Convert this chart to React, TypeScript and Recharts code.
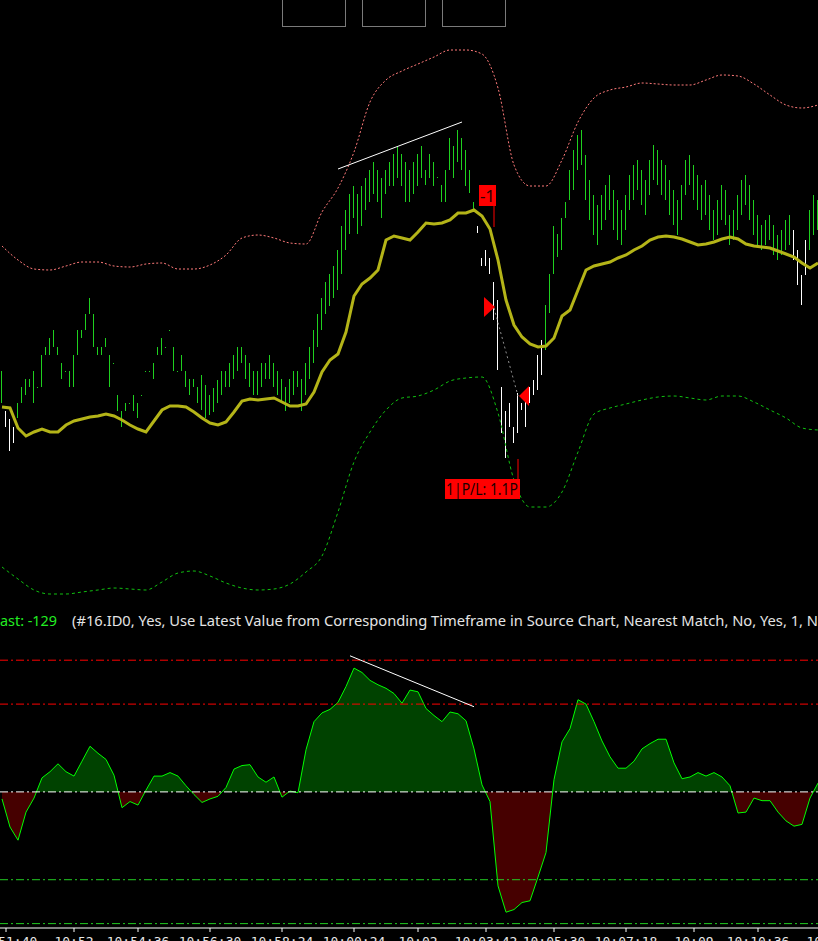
import React from 'react';
import {
  ComposedChart,
  Bar,
  Cell,
  Line,
  Area,
  XAxis,
  YAxis,
  ReferenceLine,
  ReferenceDot,
} from 'recharts';

// price bars, one per index (high / low)
const barHigh = [
  229, 189, 181, 173, 197, 213, 221, 221, 229, 213,
  245, 253, 262, 270, 253, 237, 229, 229, 245, 270,
  270, 286, 302, 286, 253, 253, 262, 245, 237, 205,
  189, 197, 197, 205, 197, 205, 229, 229, 237, 253,
  262, 253, 270, 253, 229, 245, 229, 221, 221, 213,
  225, 215, 205, 212, 220, 229, 229, 237, 245, 253,
  253, 245, 237, 229, 229, 237, 237, 245, 237, 229,
  221, 213, 221, 229, 229, 221, 237, 253, 270, 286,
  302, 318, 326, 334, 350, 374, 390, 406, 414, 406,
  414, 422, 430, 438, 430, 422, 430, 438, 446, 454,
  446, 438, 430, 438, 446, 454, 430, 446, 438, 423,
  415, 430, 462, 454, 470, 462, 450, 430, 398, 374,
  342, 350, 342, 318, 300, 213, 189, 197, 173, 207,
  197, 198, 213, 220, 245, 260, 295, 326, 374, 366,
  382, 398, 430, 450, 465, 470, 445, 420, 405, 395,
  405, 415, 425, 410, 400, 390, 405, 425, 435, 440,
  430, 420, 440, 455, 450, 440, 435, 420, 410, 400,
  415, 440, 445, 435, 425, 415, 420, 405, 390, 400,
  415, 410, 385, 390, 405, 420, 425, 415, 400, 385,
  375, 380, 385, 375, 365, 370, 380, 385, 370, 350,
  325, 360, 390, 405, 400,
];
const barLow = [
  197, 173, 149, 157, 182, 197, 205, 213, 197, 212,
  213, 245, 245, 253, 245, 221, 228, 213, 213, 245,
  262, 270, 286, 253, 245, 245, 253, 213, 236, 189,
  173, 189, 196, 189, 182, 204, 228, 228, 221, 245,
  245, 252, 269, 229, 228, 229, 213, 205, 213, 197,
  190, 182, 185, 188, 197, 205, 213, 213, 221, 229,
  237, 221, 213, 205, 205, 213, 221, 221, 213, 205,
  197, 189, 197, 205, 213, 189, 205, 221, 237, 253,
  270, 286, 294, 302, 310, 326, 350, 366, 382, 366,
  374, 390, 398, 406, 398, 382, 406, 414, 414, 422,
  414, 398, 398, 406, 414, 422, 415, 422, 414, 422,
  398, 398, 430, 422, 438, 430, 414, 407, 390, 367,
  334, 334, 326, 280, 230, 167, 142, 173, 157, 167,
  190, 173, 197, 205, 210, 225, 250, 287, 326, 343,
  350, 382, 400, 410, 430, 435, 400, 380, 365, 355,
  370, 380, 390, 370, 360, 355, 370, 390, 400, 410,
  395, 385, 405, 420, 415, 405, 400, 385, 375, 365,
  380, 405, 415, 400, 390, 380, 385, 370, 360, 365,
  380, 375, 355, 360, 370, 385, 395, 380, 365, 355,
  350, 355, 360, 345, 340, 345, 350, 355, 340, 315,
  295, 325, 350, 365, 370,
];
// bar index runs drawn white (below the average)
const downRuns = [[1, 3], [119, 135], [198, 201]];

// moving average, every 2nd bar
const maValues = [
  193, 192, 172, 164, 168, 171, 168, 168, 175, 179,
  181, 183, 184, 186, 184, 180, 175, 171, 168, 179,
  190, 194, 194, 193, 188, 182, 177, 175, 178, 188,
  199, 201, 200, 201, 202, 198, 194, 194, 196, 208,
  228, 240, 246, 268, 304, 316, 322, 330, 360, 364,
  362, 360, 368, 377, 376, 377, 380, 387, 387, 390,
  384, 371, 340, 300, 275, 263, 256, 253, 254, 262,
  284, 290, 310, 330, 334, 336, 338, 342, 345, 350,
  354, 360, 363, 364, 363, 361, 358, 355, 356, 358,
  361, 363, 361, 356, 354, 353, 352, 349, 346, 343,
  337, 332, 337,
];
// bands, every 4th bar
const upperBand = [
  354, 340, 331, 330, 334, 338, 338, 334, 333, 336,
  337, 331, 331, 335, 345, 362, 365, 362, 357, 356,
  388, 412, 448, 498, 520, 529, 536, 543, 550, 550,
  546, 512, 435, 414, 414, 440, 478, 502, 510, 513,
  517, 516, 515, 515, 520, 525, 524, 516, 505, 495,
  492, 495,
];
const lowerBand = [
  33, 21, 10, 6, 6, 8, 10, 12, 11, 10,
  18, 27, 29, 24, 17, 12, 10, 11, 16, 28,
  44, 88, 138, 168, 190, 202, 204, 210, 219, 222,
  223, 187, 120, 93, 93, 108, 148, 186, 192, 196,
  200, 203, 204, 202, 200, 204, 204, 198, 190, 182,
  172, 170,
];

// oscillator, every 2nd bar
const oscValues = [
  -8, -40, -55, -23, -7, 16, 23, 32, 23, 18,
  35, 52, 44, 37, 19, -18, -11, -15, 2, 18,
  18, 22, 18, 7, -3, -12, -8, -5, 5, 26,
  30, 31, 17, 11, 17, -6, 1, -1, 48, 80,
  90, 94, 102, 120, 141, 136, 127, 122, 118, 112,
  101, 116, 114, 95, 87, 80, 91, 89, 81, 49,
  8, -11, -107, -137, -134, -126, -124, -97, -69, 14,
  57, 72, 105, 100, 80, 58, 40, 27, 27, 35,
  49, 55, 60, 60, 33, 15, 17, 22, 18, 22,
  17, 7, -24, -23, -7, -10, -10, -23, -33, -39,
  -37, -7, 10,
];
const oscLevels = [
  { v: 150, color: '#ff0000' },
  { v: 100, color: '#ff0000' },
  { v: 0, color: '#ffffff' },
  { v: -100, color: '#22cc22' },
  { v: -150, color: '#22cc22' },
];

const tickBars = [1, 18, 34, 52, 70, 88, 104, 121, 138, 156, 173, 189, 206];
const tickLabels = [
  '10:51:40', '10:52', '10:54:36', '10:56:30', '10:58:24', '10:00:24', '10:02',
  '10:03:42', '10:05:30', '10:07:18', '10:09', '10:10:36', '10:12',
];

const priceTrend = [{ x: 84, y: 431 }, { x: 115, y: 478 }];
const oscTrend = [{ x: 87, y: 155 }, { x: 118, y: 97 }];

// short trade: signal + fill at bar 123, cover at bar 129
const entry = { bar: 123, fill: 293, lineFrom: 373, lineTo: 394, label: '-1' };
const exit = { bar: 129, fill: 204, lineFrom: 141, lineTo: 121, label: '1|P/L: 1.1P' };

const bars = barHigh.map((hi, i) => ({
  i,
  hi,
  lo: barLow[i],
  down: downRuns.some(([a, b]) => i >= a && i <= b),
}));
const maData = maValues.map((v, k) => ({ i: k * 2, v }));
const upperData = upperBand.map((v, k) => ({ i: k * 4, v }));
const lowerData = lowerBand.map((v, k) => ({ i: k * 4, v }));
const oscData = oscValues.map((v, k) => ({ i: k * 2, v }));

const W = 840;
const X_DOMAIN: [number, number] = [-0.5, 209.5];
const OSC_H = 318;
const OSC_AXIS_H = 30;
const OSC_DOMAIN: [number, number] = [-155, 173];
const zeroY = ((OSC_DOMAIN[1] - 0) / (OSC_DOMAIN[1] - OSC_DOMAIN[0])) * (OSC_H - OSC_AXIS_H);

const EntryTriangle = (p: any) => (
  <path d={`M${p.cx + 1},${p.cy} L${p.cx - 10},${p.cy - 10} L${p.cx - 10},${p.cy + 10} Z`} fill="#ff0000" />
);
const ExitTriangle = (p: any) => (
  <path d={`M${p.cx + 1},${p.cy} L${p.cx + 11},${p.cy - 10} L${p.cx + 11},${p.cy + 10} Z`} fill="#ff0000" />
);
const EntryBox = (p: any) => (
  <g>
    <rect x={p.cx - 15} y={p.cy - 21} width={17} height={21} fill="#ff0000" />
    <text x={p.cx - 6.5} y={p.cy - 4} textAnchor="middle" fontSize={17} fontFamily="Noto Sans" fill="#2a0000">
      {entry.label}
    </text>
  </g>
);
const ExitBox = (p: any) => (
  <g>
    <rect x={p.cx - 73} y={p.cy} width={75} height={20} fill="#ff0000" />
    <text
      x={p.cx - 72}
      y={p.cy + 16}
      fontSize={16}
      fontFamily="Noto Sans"
      fill="#1a0000"
      textLength={72}
      lengthAdjust="spacingAndGlyphs"
    >
      {exit.label}
    </text>
  </g>
);

const boxStyle = (left: number): React.CSSProperties => ({
  position: 'absolute',
  left,
  top: -1,
  width: 62,
  height: 26,
  border: '1px solid #7a7a7a',
});

export default function App() {
  return (
    <div
      style={{
        position: 'absolute',
        left: 0,
        top: 0,
        width: 818,
        height: 941,
        overflow: 'hidden',
        background: '#000',
      }}
    >
      <div style={boxStyle(282)} />
      <div style={boxStyle(362)} />
      <div style={boxStyle(442)} />

      <div style={{ position: 'absolute', left: 0, top: 0 }}>
        <ComposedChart width={W} height={600} data={bars} margin={{ top: 0, right: 0, bottom: 0, left: 0 }}>
          <XAxis hide type="number" dataKey="i" domain={X_DOMAIN} />
          <YAxis hide domain={[0, 600]} />
          <Bar dataKey={(d: any) => [d.lo, d.hi]} barSize={1} isAnimationActive={false}>
            {bars.map((b) => (
              <Cell key={b.i} fill={b.down ? '#ffffff' : '#1fd01f'} />
            ))}
          </Bar>
          <Line data={upperData} dataKey="v" type="monotone" stroke="#ff7a7a" strokeWidth={1}
            strokeDasharray="2 2" dot={false} activeDot={false} isAnimationActive={false} />
          <Line data={lowerData} dataKey="v" type="monotone" stroke="#10c010" strokeWidth={1}
            strokeDasharray="3 3" dot={false} activeDot={false} isAnimationActive={false} />
          <Line data={maData} dataKey="v" type="linear" stroke="#b4b418" strokeWidth={3}
            dot={false} activeDot={false} isAnimationActive={false} />
          <ReferenceLine segment={priceTrend} stroke="#ffffff" strokeWidth={1} />
          <ReferenceLine
            segment={[{ x: entry.bar, y: entry.fill - 1 }, { x: exit.bar, y: exit.fill }]}
            stroke="#909090"
            strokeDasharray="2 3"
          />
          <ReferenceLine segment={[{ x: entry.bar, y: entry.lineFrom }, { x: entry.bar, y: entry.lineTo }]} stroke="#ff0000" />
          <ReferenceLine segment={[{ x: exit.bar, y: exit.lineFrom }, { x: exit.bar, y: exit.lineTo }]} stroke="#ff0000" />
          <ReferenceDot x={entry.bar} y={entry.lineTo} r={1} shape={EntryBox} />
          <ReferenceDot x={exit.bar} y={exit.lineTo} r={1} shape={ExitBox} />
          <ReferenceDot x={entry.bar} y={entry.fill} r={1} shape={EntryTriangle} />
          <ReferenceDot x={exit.bar} y={exit.fill} r={1} shape={ExitTriangle} />
        </ComposedChart>
      </div>

      <svg width={818} height={26} style={{ position: 'absolute', left: 0, top: 610 }}>
        <text x={0} y={16} fill="#22ee22" fontSize={14} fontFamily="Noto Sans" textLength={57} lengthAdjust="spacingAndGlyphs">
          ast: -129
        </text>
        <text x={72} y={16} fill="#e4e4e4" fontSize={14} fontFamily="Noto Sans" textLength={746} lengthAdjust="spacingAndGlyphs">
          (#16.ID0, Yes, Use Latest Value from Corresponding Timeframe in Source Chart, Nearest Match, No, Yes, 1, N
        </text>
      </svg>

      <div style={{ position: 'absolute', left: 0, top: 640 }}>
        <ComposedChart width={W} height={OSC_H} data={oscData} margin={{ top: 0, right: 0, bottom: 0, left: 0 }}>
          <defs>
            <linearGradient id="oscFill" gradientUnits="userSpaceOnUse" x1={0} y1={0} x2={0} y2={OSC_H}>
              <stop offset={0} stopColor="#004200" />
              <stop offset={zeroY / OSC_H} stopColor="#004200" />
              <stop offset={zeroY / OSC_H} stopColor="#460000" />
              <stop offset={1} stopColor="#460000" />
            </linearGradient>
          </defs>
          <XAxis
            type="number"
            dataKey="i"
            domain={X_DOMAIN}
            ticks={tickBars}
            interval={0}
            height={OSC_AXIS_H}
            tickSize={4}
            tickMargin={5}
            axisLine={{ stroke: '#ffffff' }}
            tickLine={{ stroke: '#ffffff' }}
            tick={{ fill: '#e8e8e8', fontSize: 13, fontFamily: 'DejaVu Sans Mono' }}
            tickFormatter={(v: number) => tickLabels[tickBars.indexOf(v)] ?? ''}
          />
          <YAxis hide domain={OSC_DOMAIN} />
          <Area
            dataKey="v"
            type="linear"
            baseValue={0}
            stroke="#00ff00"
            strokeWidth={1}
            fill="url(#oscFill)"
            fillOpacity={1}
            activeDot={false}
            isAnimationActive={false}
          />
          {oscLevels.map((l) => (
            <ReferenceLine key={l.v} y={l.v} stroke={l.color} strokeWidth={1} strokeDasharray="8 3 2 3" />
          ))}
          <ReferenceLine segment={oscTrend} stroke="#ffffff" strokeWidth={1} />
        </ComposedChart>
      </div>
    </div>
  );
}
